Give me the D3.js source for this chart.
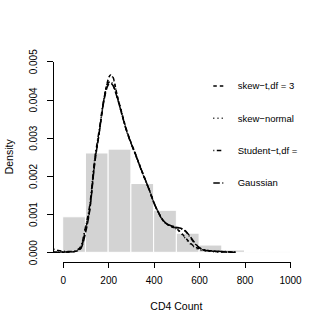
<!DOCTYPE html>
<html lang="en">
<head>
    <meta charset="utf-8">
    <title>CD4 Count density</title>
    <style>
        body { margin: 0; background: white; }
        svg { display: block; }
        text { font-family: "Liberation Sans", Arial, sans-serif; fill: #000; }
        .axis path, .axis line { stroke: #000; stroke-width: 1; shape-rendering: crispEdges; }
        .axis text { font-size: 10px; }
        .bar { fill: #d3d3d3; stroke: #fff; stroke-width: 1; }
        .curve { fill: none; stroke: #000; stroke-width: 1.5; }
        .legend text { font-size: 9.5px; }
    </style>
    <script src="https://d3js.org/d3.v7.min.js"></script>
</head>
<body>
<svg id="chart" width="327" height="327"></svg>
<script>
    // histogram: bin starts (width 100) and densities
    const binStarts = [0, 100, 200, 300, 400, 500, 600, 700, 800, 900];
    const binDensity = [0.00093, 0.0026, 0.0027, 0.0018, 0.0011, 0.0005, 0.00019, 0.00006, 0.00002, 0.00001];

    // fitted densities on a shared grid
    const xGrid = [-40, -20, 0, 20, 40, 60, 80, 100, 120, 140, 160, 180, 200, 210, 220, 240, 260, 280, 300,
        320, 340, 360, 380, 400, 420, 440, 460, 480, 500, 520, 540, 560, 580, 600, 620, 640, 660, 680, 700, 720, 740, 760];
    const skewT = [0, 0, 0.00001, 0.00001, 0.00001, 0.00003, 0.00012, 0.00058, 0.00118, 0.00232, 0.0031, 0.00395,
        0.00452, 0.00464, 0.0046, 0.0041, 0.00365, 0.00322, 0.00288, 0.00258, 0.00226, 0.00195, 0.00165, 0.00132,
        0.00106, 0.00085, 0.00074, 0.00067, 0.00062, 0.00052, 0.00038, 0.00025, 0.00015, 0.00009, 0.00006, 0.00004,
        0.00003, 0.00002, 0.00002, 0.00001, 0.00001, 0];
    const skewNormal = [0, 0, 0, 0.00001, 0.00001, 0.00004, 0.00014, 0.00062, 0.00122, 0.00236, 0.00312, 0.00396,
        0.00453, 0.00463, 0.00458, 0.00409, 0.00364, 0.00321, 0.00287, 0.00257, 0.00225, 0.00194, 0.00164, 0.00131,
        0.00105, 0.00084, 0.00073, 0.00067, 0.00061, 0.0005, 0.00036, 0.00023, 0.00013, 0.00007, 0.00004, 0.00003,
        0.00002, 0.00001, 0.00001, 0, 0, 0];
    const studentT = [0.00008, 0.00005, 0.00003, 0.00002, 0.00002, 0.00005, 0.00016, 0.00065, 0.00128, 0.0024,
        0.00318, 0.00398, 0.00443, 0.00447, 0.0044, 0.00405, 0.00362, 0.0032, 0.00286, 0.00256, 0.00224, 0.00194,
        0.00164, 0.00131, 0.00105, 0.00084, 0.00073, 0.00068, 0.00065, 0.00062, 0.00055, 0.0004, 0.00024, 0.00012,
        0.00007, 0.00005, 0.00004, 0.00003, 0.00002, 0.00002, 0.00001, 0.00001];
    const gaussian = [0, 0, 0, 0.00001, 0.00001, 0.00003, 0.0001, 0.0005, 0.00115, 0.00228, 0.0031, 0.00392,
        0.00438, 0.00442, 0.00438, 0.00404, 0.00362, 0.0032, 0.00287, 0.00257, 0.00225, 0.00195, 0.00165, 0.00132,
        0.00106, 0.00085, 0.00074, 0.00069, 0.00066, 0.00063, 0.00056, 0.00042, 0.00026, 0.00013, 0.00006, 0.00004,
        0.00003, 0.00002, 0.00001, 0.00001, 0, 0];

    const seriesNames = ["skew\u2212t,df = 3", "skew\u2212normal", "Student\u2212t,df = 3", "Gaussian"];
    const seriesValues = [skewT, skewNormal, studentT, gaussian];
    const seriesDash = ["3.5,3", "1,3.2", "1,2.5,4.5,2.5", "6.5,2.5"];

    const xTicks = [0, 200, 400, 600, 800, 1000];
    const yTicks = [0, 0.001, 0.002, 0.003, 0.004, 0.005];

    const svg = d3.select("#chart");

    const x = d3.scaleLinear().domain([0, 1000]).range([62.7, 290]);
    const y = d3.scaleLinear().domain([0, 0.005]).range([252.3, 61.3]);

    // plot region (R extends the x range by 4%)
    const clipLeft = x(-41), clipRight = x(1041), clipTop = 40, clipBottom = 261.7;
    svg.append("clipPath").attr("id", "plotclip")
        .append("rect")
        .attr("x", clipLeft).attr("y", clipTop)
        .attr("width", clipRight - clipLeft).attr("height", clipBottom - clipTop);

    const plot = svg.append("g").attr("clip-path", "url(#plotclip)");

    plot.selectAll("rect.bar")
        .data(binStarts)
        .join("rect")
        .attr("class", "bar")
        .attr("x", d => x(d))
        .attr("width", d => x(d + 100) - x(d))
        .attr("y", (d, i) => y(binDensity[i]))
        .attr("height", (d, i) => y(0) - y(binDensity[i]));

    const line = d3.line()
        .x((d, i) => x(xGrid[i]))
        .y(d => y(d))
        .curve(d3.curveMonotoneX);

    seriesValues.forEach((vals, k) => {
        plot.append("path")
            .attr("class", "curve")
            .attr("stroke-dasharray", seriesDash[k])
            .attr("d", line(vals));
    });

    // legend (clipped to the plot region like in R)
    const legend = plot.append("g").attr("class", "legend");
    seriesNames.forEach((name, k) => {
        const ly = 86 + k * 32.3;
        legend.append("line")
            .attr("class", "curve")
            .attr("x1", 213.3).attr("x2", 223.3)
            .attr("y1", ly).attr("y2", ly)
            .attr("stroke-dasharray", seriesDash[k]);
        legend.append("text")
            .attr("x", 237.7).attr("y", ly)
            .attr("dy", "0.35em")
            .text(name);
    });

    // axes
    const xAxis = svg.append("g")
        .attr("class", "axis")
        .attr("transform", "translate(0,261.7)")
        .call(d3.axisBottom(x).tickValues(xTicks).tickSize(6).tickSizeOuter(0).tickFormat(d3.format("d")));
    xAxis.selectAll("text").attr("y", 0).attr("dy", "22.5px");

    const yAxis = svg.append("g")
        .attr("class", "axis")
        .attr("transform", "translate(53.3,0)")
        .call(d3.axisLeft(y).tickValues(yTicks).tickSize(6.5).tickSizeOuter(0).tickFormat(d3.format(".3f")));
    yAxis.selectAll(".tick text")
        .attr("x", 0).attr("dy", null)
        .attr("text-anchor", "middle")
        .attr("transform", "translate(-16.5,0) rotate(-90)");

    svg.append("text")
        .attr("x", (x(0) + x(1000)) / 2)
        .attr("y", 310)
        .attr("text-anchor", "middle")
        .style("font-size", "10.5px")
        .text("CD4 Count");

    svg.append("text")
        .attr("transform", `translate(13.3,${(y(0) + y(0.005)) / 2}) rotate(-90)`)
        .attr("text-anchor", "middle")
        .style("font-size", "10.5px")
        .text("Density");
</script>
</body>
</html>
